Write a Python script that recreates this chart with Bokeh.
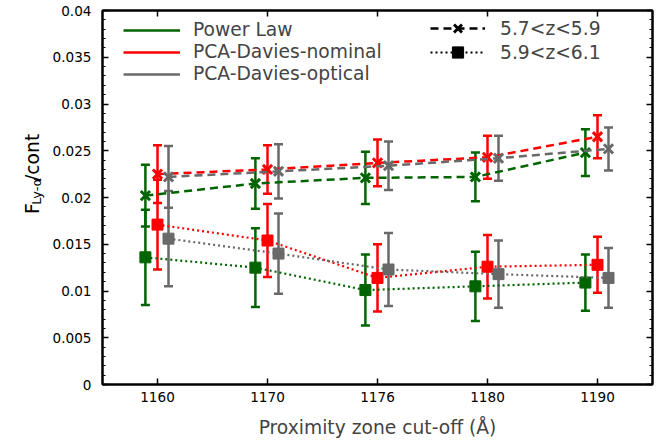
import numpy as np
from bokeh.plotting import figure
from bokeh.layouts import row
from bokeh.core.properties import value
from bokeh.models import (Range1d, FixedTicker, LinearAxis, Whisker, TeeHead,
                          ColumnDataSource, Legend, LegendItem,
                          CustomJSTickFormatter)
from bokeh.embed import file_html
from bokeh.resources import INLINE

# ---------------- data ----------------
cutoffs = ["1160", "1170", "1176", "1180", "1190"]
positions = [1, 2, 3, 4, 5]

methods = ["Power Law", "PCA-Davies-nominal", "PCA-Davies-optical"]
colors = ["#006400", "#ff0000", "#696969"]
offsets = [-0.11, 0.0, 0.1]

# 5.7<z<5.9
lowz_pl = [0.0202, 0.0215, 0.0221, 0.0222, 0.0248]
lowz_pl_err = [0.0033, 0.0027, 0.0028, 0.0026, 0.0025]
lowz_nom = [0.0225, 0.0230, 0.0237, 0.0243, 0.0265]
lowz_nom_err = [0.0031, 0.0026, 0.0025, 0.0023, 0.0023]
lowz_opt = [0.0222, 0.0228, 0.0234, 0.0242, 0.0252]
lowz_opt_err = [0.0033, 0.0029, 0.0026, 0.0024, 0.0023]

# 5.9<z<6.1
highz_pl = [0.0136, 0.0125, 0.0101, 0.0105, 0.0109]
highz_pl_err = [0.0051, 0.0042, 0.0038, 0.0037, 0.0030]
highz_nom = [0.0171, 0.0154, 0.0114, 0.0126, 0.0128]
highz_nom_err = [0.0048, 0.0039, 0.0036, 0.0034, 0.0030]
highz_opt = [0.0156, 0.0140, 0.0123, 0.0118, 0.0114]
highz_opt_err = [0.0051, 0.0043, 0.0039, 0.0036, 0.0032]

z_labels = ["5.7<z<5.9", "5.9<z<6.1"]
y_ticks = [0, 0.005, 0.01, 0.015, 0.02, 0.025, 0.03, 0.035, 0.04]
ylabel_parts = ["F", "Ly-α", "/cont"]

lowz = [(lowz_pl, lowz_pl_err), (lowz_nom, lowz_nom_err), (lowz_opt, lowz_opt_err)]
highz = [(highz_pl, highz_pl_err), (highz_nom, highz_nom_err), (highz_opt, highz_opt_err)]

FONT = "DejaVu Sans"
TICK_FS = "13.6px"
BIG_FS = "18.7px"
H = 441
LW = 45

p = figure(width=670 - LW, height=H, output_backend="svg", toolbar_location=None,
           x_range=Range1d(0.5, 5.5), y_range=Range1d(0, 0.04),
           min_border_left=102 - LW, min_border_right=18, min_border_top=10,
           min_border_bottom=57)
p.grid.visible = False
p.outline_line_color = "black"
p.outline_line_width = 2
p.background_fill_color = "white"
p.border_fill_color = "white"

minor_y = list(np.round(np.arange(0, 0.0405, 0.001), 4))

# axes
p.xaxis.ticker = FixedTicker(ticks=positions)
p.xaxis.major_label_overrides = {pos: lab for pos, lab in zip(positions, cutoffs)}
p.yaxis.ticker = FixedTicker(ticks=y_ticks, minor_ticks=minor_y)
p.yaxis.formatter = CustomJSTickFormatter(code="return Number(tick.toFixed(3)).toString();")

for ax in [p.xaxis[0], p.yaxis[0]]:
    ax.major_label_text_font = FONT
    ax.major_label_text_font_size = TICK_FS
    ax.major_label_text_color = "black"
    ax.major_tick_in = 6
    ax.major_tick_out = 0
    ax.minor_tick_in = 3
    ax.minor_tick_out = 0
    ax.axis_line_width = 2
    ax.major_tick_line_width = 1.5
    ax.minor_tick_line_width = 1.2
    ax.axis_label_text_font = FONT
    ax.axis_label_text_font_size = BIG_FS
    ax.axis_label_text_font_style = "normal"
p.xaxis.minor_tick_line_color = None
p.xaxis.major_label_standoff = 7
p.yaxis.major_label_standoff = 11
p.xaxis.axis_label = "Proximity zone cut-off (Å)"
p.xaxis.axis_label_standoff = 12

# mirrored axes (ticks only)
top_ax = LinearAxis(ticker=FixedTicker(ticks=positions),
                    formatter=CustomJSTickFormatter(code="return '';"))
right_ax = LinearAxis(ticker=FixedTicker(ticks=y_ticks, minor_ticks=minor_y),
                      formatter=CustomJSTickFormatter(code="return '';"))
for ax in [top_ax, right_ax]:
    ax.major_tick_in = 6
    ax.major_tick_out = 0
    ax.minor_tick_in = 3
    ax.minor_tick_out = 0
    ax.axis_line_width = 2
    ax.major_tick_line_width = 1.5
    ax.minor_tick_line_width = 1.2
    ax.major_label_standoff = 0
    ax.major_label_text_font_size = "1px"
top_ax.minor_tick_line_color = None
p.add_layout(top_ax, "above")
p.add_layout(right_ax, "right")

# data rendering
def draw(series, dash, marker, size, lw_marker, lw_line):
    for (vals, errs), c, off in zip(series, colors, offsets):
        x = [pos + off for pos in positions]
        lo = [v - e for v, e in zip(vals, errs)]
        hi = [v + e for v, e in zip(vals, errs)]
        src = ColumnDataSource(dict(x=x, y=vals, lo=lo, hi=hi))
        w = Whisker(source=src, base="x", upper="hi", lower="lo", dimension="height",
                    line_color=c, line_width=2.5, level="underlay",
                    upper_head=TeeHead(size=9, line_color=c, line_width=2.5),
                    lower_head=TeeHead(size=9, line_color=c, line_width=2.5))
        p.add_layout(w)
        p.line("x", "y", source=src, line_color=c, line_dash=dash, line_width=lw_line)
        if marker == "x":
            p.scatter("x", "y", source=src, marker="x", size=size,
                      line_color=c, line_width=lw_marker)
        else:
            p.scatter("x", "y", source=src, marker="square", size=size,
                      line_color=c, fill_color=c, line_width=1)

draw(lowz, "8 5", "x", 13, 3, 2.5)
draw(highz, "2 3", "square", 11, 1, 2.2)

# legend 1: methods (legend-only renderers hold a single NaN point)
items1 = []
for name, c in zip(methods, colors):
    r = p.line([np.nan], [np.nan], line_color=c, line_width=2.5)
    items1.append(LegendItem(label=name, renderers=[r]))
leg1 = Legend(items=items1, location=(21, 300), padding=0, margin=0,
              border_line_alpha=0, background_fill_alpha=0,
              glyph_width=57, glyph_height=20, label_height=20, spacing=1,
              label_standoff=13, label_text_font=FONT, label_text_font_size=BIG_FS)
p.add_layout(leg1, "center")

# legend 2: redshift bins (one legend per row so the markers can be larger)
rl1 = p.line([np.nan], [np.nan], line_color="black", line_width=2.5, line_dash="8 5")
rm1 = p.scatter([np.nan], [np.nan], marker="x", size=13, line_color="black", line_width=3)
rl2 = p.line([np.nan], [np.nan], line_color="black", line_width=2.2, line_dash="2 3")
rm2 = p.scatter([np.nan], [np.nan], marker="square", size=11, line_color="black",
                fill_color="black")
for lab, rends, ypos in [(z_labels[0], [rl1, rm1], 342), (z_labels[1], [rl2, rm2], 318)]:
    lg = Legend(items=[LegendItem(label=lab, renderers=rends)], location=(328, ypos),
                padding=0, margin=0, border_line_alpha=0, background_fill_alpha=0,
                glyph_width=55, glyph_height=28, label_height=20, spacing=0,
                label_standoff=15, label_text_font=FONT, label_text_font_size=BIG_FS)
    p.add_layout(lg, "center")

# y axis label panel: F_{Ly-α}/cont (rotated)
yl = figure(width=LW, height=H, output_backend="svg", toolbar_location=None,
            x_range=Range1d(0, LW), y_range=Range1d(0, H), min_border=0)
yl.axis.visible = False
yl.grid.visible = False
yl.outline_line_color = None
yl.background_fill_color = "white"
yl.border_fill_color = "white"
ang = np.pi / 2
yl.text(x=[32, 32], y=[201, 240], text=[ylabel_parts[0], ylabel_parts[2]],
        angle=ang, text_font=value(FONT), text_font_size=value(BIG_FS),
        text_baseline="alphabetic", text_align="left", text_color="black")
yl.text(x=[36], y=[212], text=[ylabel_parts[1]],
        angle=ang, text_font=value(FONT), text_font_size=value("13px"),
        text_baseline="alphabetic", text_align="left", text_color="black")

layout = row(yl, p)
open("out.html", "w").write(file_html(layout, INLINE))
